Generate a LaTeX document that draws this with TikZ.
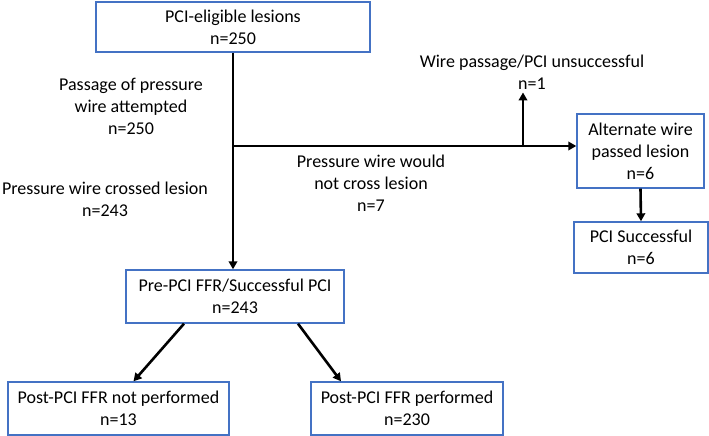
\documentclass[tikz,border=0pt]{standalone}
\usepackage{fontspec}
\setmainfont{Carlito}
\usetikzlibrary{arrows.meta,calc}
\definecolor{boxblue}{RGB}{68,114,196}
\tikzset{
  box/.style={draw=boxblue, line width=1.4pt, fill=white, align=center, inner sep=0pt,
    font=\fontsize{18}{22}\selectfont},
  lbl/.style={align=center, inner sep=0pt, font=\fontsize{18}{22}\selectfont},
  conn/.style={draw=black, line width=2.6pt},
  arr/.style={conn, -{Triangle[length=8pt,width=8.5pt]}},
}
\begin{document}
\begin{tikzpicture}[x=1pt,y=-1pt]
\useasboundingbox (0,0) rectangle (709,436);
\node[box, minimum width=274pt, minimum height=50pt] (top) at (233,27) {PCI-eligible lesions\\n=250};
\node[box, minimum width=127pt, minimum height=74pt] (alt) at (640.5,151) {Alternate wire\\passed lesion\\n=6};
\node[box, minimum width=134pt, minimum height=51pt] (pcis) at (641,247.5) {PCI Successful\\n=6};
\node[box, minimum width=218pt, minimum height=53pt] (pre) at (235,296.5) {Pre-PCI FFR/Successful PCI\\n=243};
\node[box, minimum width=221pt, minimum height=53pt] (postn) at (118.5,408.5) {Post-PCI FFR not performed\\n=13};
\node[box, minimum width=192pt, minimum height=53pt] (posty) at (407,408.5) {Post-PCI FFR performed\\n=230};

\node[lbl] (lpass) at (131,106) {Passage of pressure\\wire attempted\\n=250};
\node[lbl] (lcross) at (105,199) {Pressure wire crossed lesion\\n=243};
\node[lbl] (lnot) at (371,183) {Pressure wire would\\not cross lesion\\n=7};
\node[lbl] (lwp) at (532,72) {Wire passage/PCI unsuccessful\\n=1};

\coordinate (j) at (233,146);
\coordinate (u) at (523,146);

\draw[arr] (top.south) -- (top.south |- pre.north);
\draw[arr] (j) -- (j -| alt.west);
\draw[arr] (u) -- ($(u |- lwp.south)+(0,3)$);
\draw[arr] (alt.south) -- (pcis.north);
\draw[arr] ([xshift=-51pt]pre.south) -- ([xshift=15pt]postn.north);
\draw[arr] ([xshift=63pt]pre.south) -- ([xshift=-66pt]posty.north);
\end{tikzpicture}
\end{document}
